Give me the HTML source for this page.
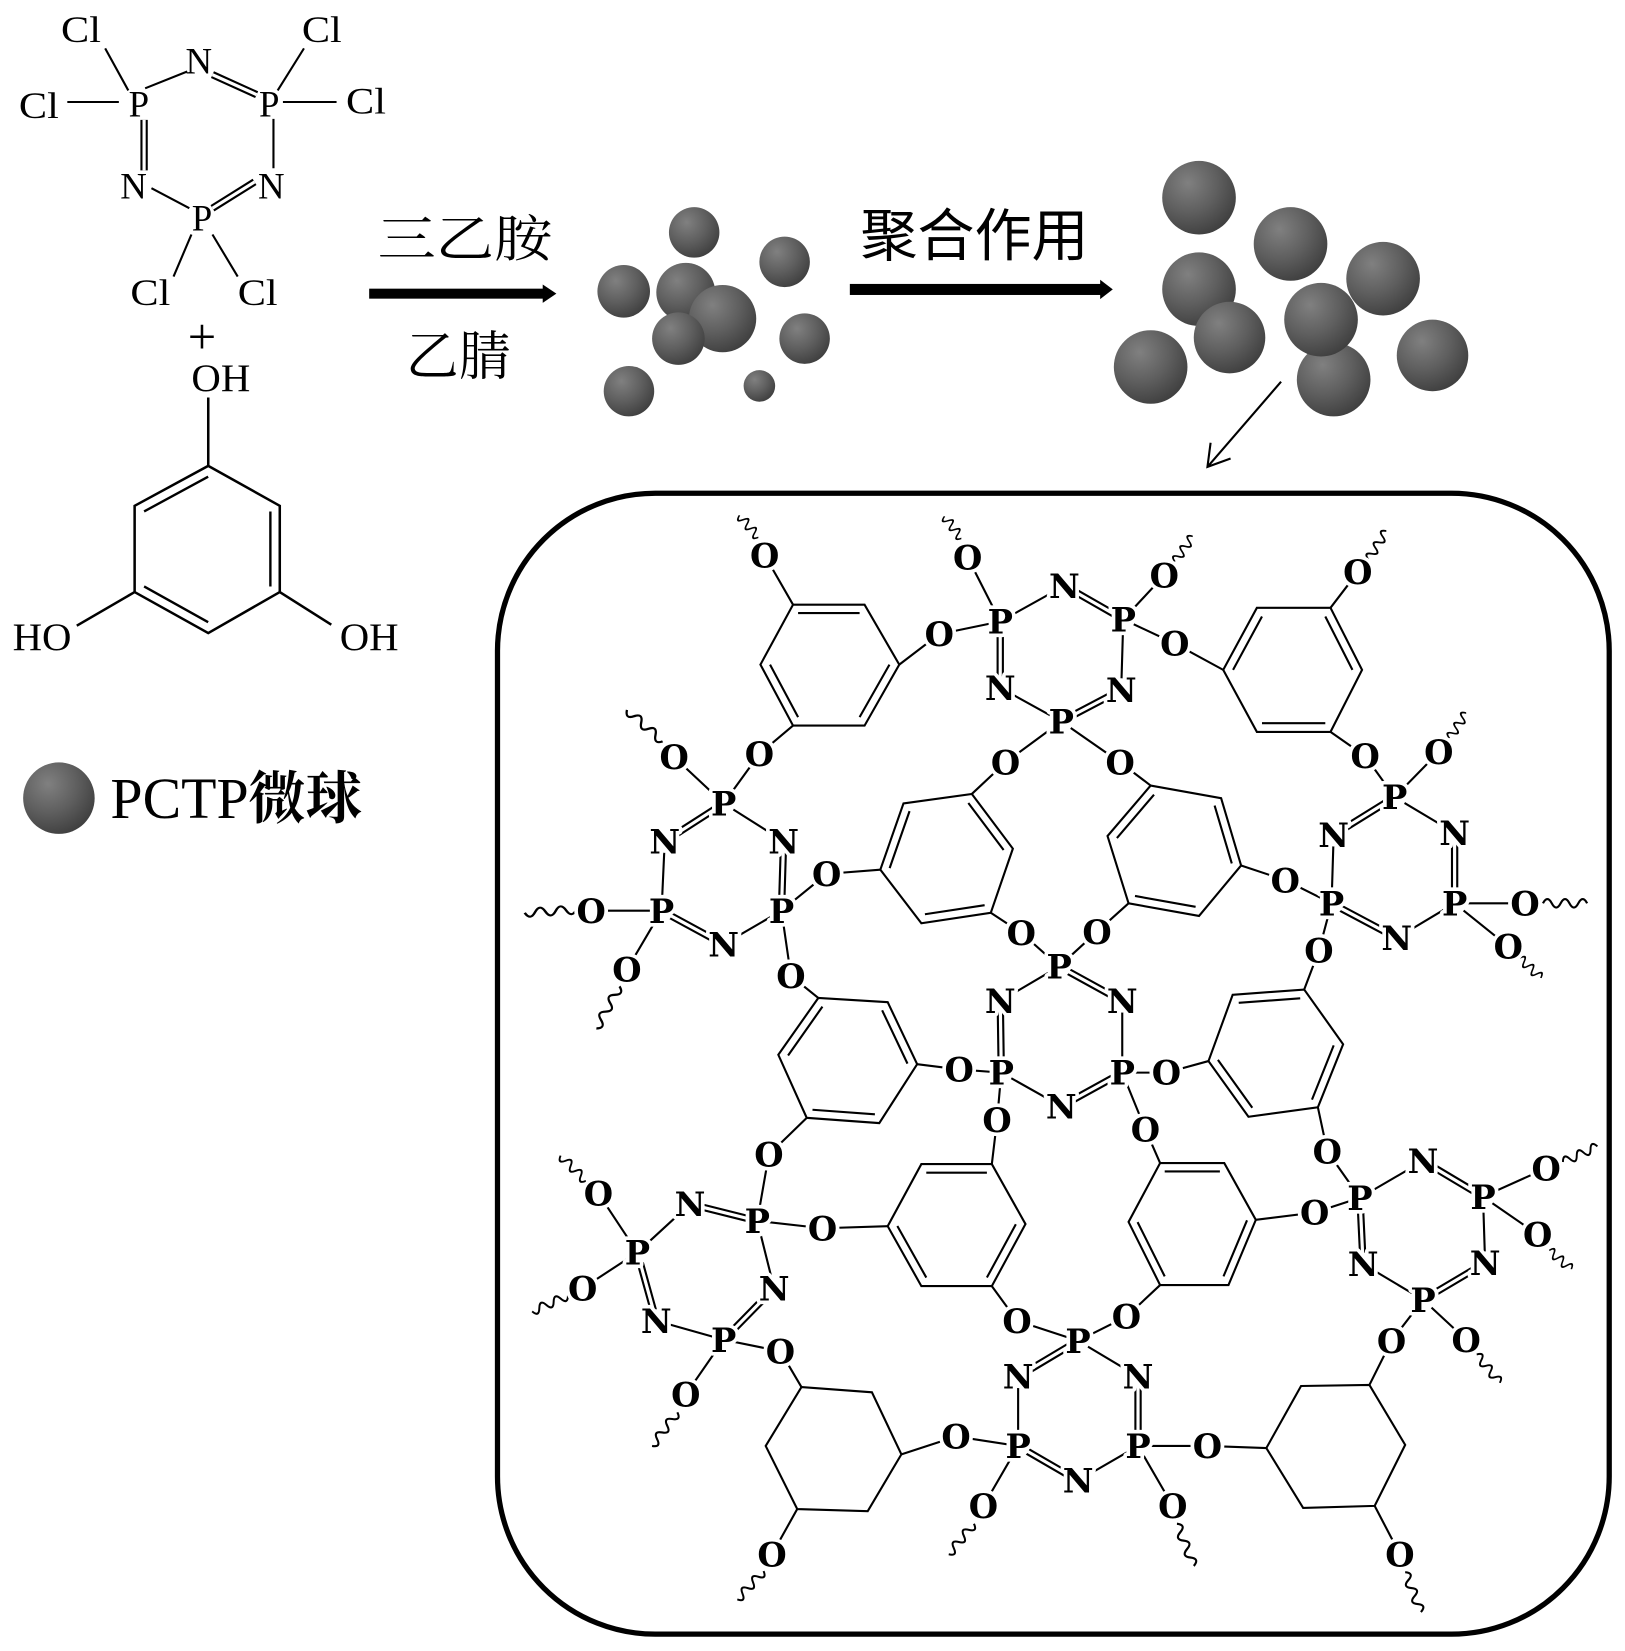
<!DOCTYPE html>
<html>
<head>
<meta charset="utf-8">
<style>
html,body{margin:0;padding:0;background:#fff;}
svg{display:block;}
.r{font-family:"Liberation Serif",serif;font-size:35px;text-anchor:middle;fill:#000;}
.a{font-family:"DejaVu Serif","Liberation Serif",serif;font-weight:bold;font-size:32px;text-anchor:middle;fill:#000;stroke:#fff;stroke-width:7px;paint-order:stroke;stroke-linejoin:round;}
</style>
</head>
<body>
<svg width="1625" height="1651" viewBox="0 0 1545 1570" preserveAspectRatio="none" xmlns="http://www.w3.org/2000/svg">
<defs>
<radialGradient id="g" cx="0.35" cy="0.3" r="0.8">
<stop offset="0" stop-color="#808080"/>
<stop offset="0.5" stop-color="#5f5f5f"/>
<stop offset="1" stop-color="#3a3a3a"/>
</radialGradient>
<path id="w" d="M0 0q4 -8 8 0t8 0t8 0t8 0t8 0" fill="none"/>
<path id="dbl" d="M1012 557L1068 589M1066 656L1009 686M951 654L951 591M1326 758L1268 794M1383 792L1383 859M1328 892L1266 859M688 764L632 800M745 800L743 866M688 898L629 866M1007 919L1067 952M951 952L952 1020M1009 1052L1067 1020M656 1145L720 1161M736 1225L688 1274M624 1256L606 1191M968 1309L1025 1275M1082 1309L1082 1375M1025 1408L968 1375M1353 1104L1410 1138M1412 1201L1353 1236M1296 1202L1293 1139M202 71L244 90M202 198L242 173M137 114L137 162"/>
</defs>

<!-- ===== Reactant: hexachlorocyclotriphosphazene ===== -->
<path fill="none" stroke="#000" stroke-width="2" d="M100 46L122 86M64 97L113 97M138 84L178 68M264 86L289 46M269 97L320 97M260 113L260 160M144 179L180 198M182 223L165 263M202 223L226 263"/>
<text class="r" x="77" y="40" textLength="38" lengthAdjust="spacingAndGlyphs">Cl</text>
<text class="r" x="306" y="40" textLength="38" lengthAdjust="spacingAndGlyphs">Cl</text>
<text class="r" x="37" y="112" textLength="38" lengthAdjust="spacingAndGlyphs">Cl</text>
<text class="r" x="348" y="108" textLength="38" lengthAdjust="spacingAndGlyphs">Cl</text>
<text class="r" x="143" y="290" textLength="38" lengthAdjust="spacingAndGlyphs">Cl</text>
<text class="r" x="245" y="290" textLength="38" lengthAdjust="spacingAndGlyphs">Cl</text>
<text class="r" x="132" y="111">P</text>
<text class="r" x="256" y="111">P</text>
<text class="r" x="192" y="219">P</text>
<text class="r" x="189" y="70">N</text>
<text class="r" x="127" y="189">N</text>
<text class="r" x="258" y="189">N</text>
<text class="r" x="192" y="336" style="font-size:48px">+</text>

<!-- ===== Phloroglucinol ===== -->
<g fill="none" stroke="#000" stroke-width="2.4">
<polygon points="198,443 266,481 266,563 198,602 128,563 128,481"/>
<path d="M198 378L198 443M128 563L73 595M266 563L315 594"/>
</g>
<path fill="none" stroke="#000" stroke-width="2.6" transform="matrix(.87 0 0 .87 25.65 67.89)" d="M128 481L198 443M266 481L266 563M128 563L198 602"/>
<text class="r" x="210" y="372" style="font-size:37px" textLength="56" lengthAdjust="spacingAndGlyphs">OH</text>
<text class="r" x="40" y="618" style="font-size:37px" textLength="56" lengthAdjust="spacingAndGlyphs">HO</text>
<text class="r" x="351" y="618" style="font-size:37px" textLength="56" lengthAdjust="spacingAndGlyphs">OH</text>

<!-- ===== Legend ===== -->
<circle cx="56" cy="759" r="34" fill="url(#g)"/>
<text x="105" y="778" font-family="'Liberation Serif', serif" font-size="55" fill="#000">PCTP<tspan font-family="'Noto Serif CJK SC','Liberation Serif',serif" font-weight="bold" font-size="54">微球</tspan></text>

<!-- ===== Arrow 1 ===== -->
<rect x="351" y="274.5" width="167" height="9.5" fill="#000"/>
<polygon points="516,270.5 529,279.2 516,288" fill="#000"/>
<text x="359" y="244" font-family="'Liberation Serif','Noto Serif CJK SC',serif" font-size="48" fill="#000" textLength="166" lengthAdjust="spacingAndGlyphs">三乙胺</text>
<text x="386" y="356" font-family="'Liberation Serif','Noto Serif CJK SC',serif" font-size="50" fill="#000" textLength="100" lengthAdjust="spacingAndGlyphs">乙腈</text>

<!-- ===== Arrow 2 ===== -->
<rect x="808" y="270" width="240" height="10.5" fill="#000"/>
<polygon points="1046,266 1058,275.2 1046,284.5" fill="#000"/>
<text x="818" y="243" font-family="'Liberation Sans','Noto Sans CJK SC',sans-serif" font-size="54" fill="#000" textLength="217" lengthAdjust="spacingAndGlyphs">聚合作用</text>

<!-- ===== Particles group 1 ===== -->
<g fill="url(#g)">
<circle cx="660" cy="221" r="24"/>
<circle cx="746" cy="249" r="24"/>
<circle cx="593" cy="277" r="25"/>
<circle cx="652" cy="278" r="28"/>
<circle cx="687" cy="303" r="32"/>
<circle cx="645" cy="322" r="25"/>
<circle cx="765" cy="322" r="24"/>
<circle cx="598" cy="372" r="24"/>
<circle cx="722" cy="367" r="15"/>
</g>
<!-- ===== Particles group 2 ===== -->
<g fill="url(#g)">
<circle cx="1140" cy="188" r="35"/>
<circle cx="1227" cy="232" r="35"/>
<circle cx="1315" cy="265" r="35"/>
<circle cx="1140" cy="275" r="35"/>
<circle cx="1169" cy="321" r="34"/>
<circle cx="1268" cy="361" r="35"/>
<circle cx="1256" cy="304" r="35"/>
<circle cx="1094" cy="349" r="35"/>
<circle cx="1362" cy="338" r="34"/>
</g>
<!-- small arrow -->
<path fill="none" stroke="#000" stroke-width="2" d="M1218 363L1148 444M1151 421L1148 444L1170 436"/>

<!-- ===== Box ===== -->
<rect x="473" y="469" width="1057" height="1085" rx="150" ry="150" fill="none" stroke="#000" stroke-width="5"/>

<!-- ===== Network: rings ===== -->
<g fill="none" stroke="#000" stroke-width="2">
<polygon points="754,575 822,575 855,632 822,690 754,690 723,632"/>
<polygon points="1195,578 1265,578 1295,637 1265,696 1195,696 1163,637"/>
<polygon points="859,764 924,755 963,807 942,868 876,878 837,827"/>
<polygon points="1094,747 1161,759 1180,823 1140,871 1073,859 1053,795"/>
<polygon points="778,949 844,953 872,1012 836,1068 767,1063 740,1003"/>
<polygon points="1172,946 1240,941 1277,993 1253,1053 1187,1062 1149,1009"/>
<polygon points="876,1107 943,1107 975,1164 943,1223 876,1223 844,1166"/>
<polygon points="1103,1106 1164,1106 1194,1160 1168,1222 1103,1222 1073,1162"/>
<polygon points="762,1319 829,1324 857,1383 825,1437 758,1435 728,1375"/>
<polygon points="1237,1318 1302,1317 1336,1374 1307,1432 1239,1434 1204,1377"/>
</g>
<g fill="none" stroke="#000" stroke-width="2.33">
<path transform="matrix(.86 0 0 .86 110.36 88.52)" d="M754 575L822 575M855 632L822 690M754 690L723 632"/>
<path transform="matrix(.86 0 0 .86 172.16 89.18)" d="M1195 578L1163 637M1265 578L1295 637M1265 696L1195 696"/>
<path transform="matrix(.86 0 0 .86 126.03 114.31)" d="M859 764L837 827M924 755L963 807M942 868L876 878"/>
<path transform="matrix(.86 0 0 .86 156.35 113.26)" d="M1094 747L1053 795M1161 759L1180 823M1140 871L1073 859"/>
<path transform="matrix(.86 0 0 .86 112.87 141.12)" d="M778 949L740 1003M844 953L872 1012M836 1068L767 1063"/>
<path transform="matrix(.86 0 0 .86 169.82 140.10)" d="M1172 946L1240 941M1277 993L1253 1053M1149 1009L1187 1062"/>
<path transform="matrix(.86 0 0 .86 127.33 163.1)" d="M876 1107L943 1107M975 1164L943 1223M876 1223L844 1166"/>
<path transform="matrix(.86 0 0 .86 158.79 162.82)" d="M1103 1106L1164 1106M1194 1160L1168 1222M1073 1162L1103 1222"/>
</g>

<!-- ===== Network: single bonds ===== -->
<path fill="none" stroke="#000" stroke-width="2" d="M727 528L754 575M855 632L893 603M893 603L951 591M754 690L722 717M722 717L688 764M920 530L951 591M951 591L1012 557M1068 589L1066 656M1009 686L951 654M1068 589L1107 547M1068 589L1117 612M1117 612L1163 637M1009 686L956 725M956 725L924 755M1009 686L1065 725M1065 725L1094 747M1265 578L1291 544M1265 696L1298 719M1298 719L1326 758M1326 758L1383 792M1383 859L1328 892M1266 859L1268 794M1326 758L1368 715M1383 859L1450 859M1383 859L1434 900M1266 859L1222 837M1222 837L1180 823M1266 859L1254 904M1254 904L1240 941M688 764L745 800M743 866L688 898M629 866L632 800M688 764L641 720M629 866L562 866M629 866L596 922M743 866L786 831M786 831L837 827M743 866L752 928M752 928L778 949M942 868L971 887M971 887L1007 919M1073 859L1043 886M1043 886L1007 919M1007 919L951 952M1067 952L1067 1020M952 1020L1009 1052M952 1020L912 1017M912 1017L872 1012M952 1020L948 1065M948 1065L943 1107M1067 1020L1109 1020M1109 1020L1149 1009M1067 1020L1089 1074M1089 1074L1103 1106M767 1063L731 1098M731 1098L720 1161M1253 1053L1262 1095M1262 1095L1293 1139M844 1166L782 1168M782 1168L720 1161M943 1223L967 1256M967 1256L1025 1275M1194 1160L1250 1153M1250 1153L1293 1139M1103 1222L1071 1252M1071 1252L1025 1275M720 1161L736 1225M688 1274L624 1256M606 1191L656 1145M606 1191L569 1135M606 1191L554 1225M688 1274L742 1285M742 1285L762 1319M688 1274L652 1326M857 1383L909 1366M909 1366L968 1375M758 1435L734 1478M1025 1275L1082 1309M1082 1375L1025 1408M968 1375L968 1309M968 1375L935 1432M1082 1375L1148 1375M1148 1375L1204 1377M1082 1375L1115 1432M1302 1317L1323 1275M1323 1275L1353 1236M1307 1432L1331 1478M1293 1139L1353 1104M1410 1138L1412 1201M1353 1236L1296 1202M1410 1138L1470 1111M1410 1138L1462 1174M1353 1236L1394 1274"/>

<!-- ===== double bonds ===== -->
<use href="#dbl" fill="none" stroke="#000" stroke-width="7"/>
<use href="#dbl" fill="none" stroke="#fff" stroke-width="3"/>

<!-- ===== wavy bonds ===== -->
<g stroke="#000" stroke-width="2" fill="none">
<use href="#w" transform="translate(721 511) rotate(-130.6) scale(.69 1)"/>
<use href="#w" transform="translate(914 512) rotate(-127.3) scale(.66 1)"/>
<use href="#w" transform="translate(1117 534) rotate(-54.7) scale(.735 1)"/>
<use href="#w" transform="translate(1301 532) rotate(-57.8) scale(.8 1)"/>
<use href="#w" transform="translate(630 705) rotate(-138.6) scale(1.13 1)"/>
<use href="#w" transform="translate(548 865) rotate(176.5) scale(1.23 1)"/>
<use href="#w" transform="translate(589 938) rotate(118.8) scale(1.14 1)"/>
<use href="#w" transform="translate(1378 702) rotate(-56.3) scale(.72 1)"/>
<use href="#w" transform="translate(1467 859) scale(1.05 1)"/>
<use href="#w" transform="translate(1445 911) rotate(43.5) scale(.69 1)"/>
<use href="#w" transform="translate(557 1123) rotate(-135) scale(.85 1)"/>
<use href="#w" transform="translate(540 1232) rotate(156.2) scale(.93 1)"/>
<use href="#w" transform="translate(644 1343) rotate(126.9) scale(1 1)"/>
<use href="#w" transform="translate(726 1494) rotate(132.8) scale(.92 1)"/>
<use href="#w" transform="translate(926 1449) rotate(129.6) scale(.94 1)"/>
<use href="#w" transform="translate(1119 1449) rotate(68.2) scale(1.08 1)"/>
<use href="#w" transform="translate(1336 1495) rotate(68.5) scale(1.02 1)"/>
<use href="#w" transform="translate(1404 1288) rotate(50.8) scale(.87 1)"/>
<use href="#w" transform="translate(1486 1105) rotate(-24.4) scale(.9 1)"/>
<use href="#w" transform="translate(1473 1189) rotate(40.6) scale(.69 1)"/>
</g>

<!-- ===== white masks behind labels ===== -->
<g fill="#fff" transform="translate(0 -10)">
<circle cx="727" cy="538" r="11"/><circle cx="893" cy="613" r="11"/><circle cx="722" cy="727" r="11"/>
<circle cx="951" cy="601" r="11"/><circle cx="1012" cy="567" r="11"/><circle cx="1068" cy="599" r="11"/>
<circle cx="1066" cy="666" r="11"/><circle cx="1009" cy="696" r="11"/><circle cx="951" cy="664" r="11"/>
<circle cx="920" cy="540" r="11"/><circle cx="1107" cy="557" r="11"/><circle cx="1117" cy="622" r="11"/>
<circle cx="956" cy="735" r="11"/><circle cx="1065" cy="735" r="11"/><circle cx="1291" cy="554" r="11"/>
<circle cx="1298" cy="729" r="11"/><circle cx="1326" cy="768" r="11"/><circle cx="1268" cy="804" r="11"/>
<circle cx="1383" cy="802" r="11"/><circle cx="1266" cy="869" r="11"/><circle cx="1328" cy="902" r="11"/>
<circle cx="1383" cy="869" r="11"/><circle cx="1368" cy="725" r="11"/><circle cx="1450" cy="869" r="11"/>
<circle cx="1434" cy="910" r="11"/><circle cx="1222" cy="847" r="11"/><circle cx="1254" cy="914" r="11"/>
<circle cx="688" cy="774" r="11"/><circle cx="632" cy="810" r="11"/><circle cx="745" cy="810" r="11"/>
<circle cx="629" cy="876" r="11"/><circle cx="743" cy="876" r="11"/><circle cx="688" cy="908" r="11"/>
<circle cx="641" cy="730" r="11"/><circle cx="562" cy="876" r="11"/><circle cx="596" cy="932" r="11"/>
<circle cx="786" cy="841" r="11"/><circle cx="752" cy="938" r="11"/><circle cx="971" cy="897" r="11"/>
<circle cx="1043" cy="896" r="11"/><circle cx="1007" cy="929" r="11"/><circle cx="951" cy="962" r="11"/>
<circle cx="1067" cy="962" r="11"/><circle cx="952" cy="1030" r="11"/><circle cx="1067" cy="1030" r="11"/>
<circle cx="1009" cy="1062" r="11"/><circle cx="912" cy="1027" r="11"/><circle cx="948" cy="1075" r="11"/>
<circle cx="1109" cy="1030" r="11"/><circle cx="1089" cy="1084" r="11"/><circle cx="731" cy="1108" r="11"/>
<circle cx="1262" cy="1105" r="11"/><circle cx="782" cy="1178" r="11"/><circle cx="967" cy="1266" r="11"/>
<circle cx="1250" cy="1163" r="11"/><circle cx="1071" cy="1262" r="11"/><circle cx="720" cy="1171" r="11"/>
<circle cx="656" cy="1155" r="11"/><circle cx="606" cy="1201" r="11"/><circle cx="736" cy="1235" r="11"/>
<circle cx="624" cy="1266" r="11"/><circle cx="688" cy="1284" r="11"/><circle cx="569" cy="1145" r="11"/>
<circle cx="554" cy="1235" r="11"/><circle cx="742" cy="1295" r="11"/><circle cx="652" cy="1336" r="11"/>
<circle cx="909" cy="1376" r="11"/><circle cx="734" cy="1488" r="11"/><circle cx="1025" cy="1285" r="11"/>
<circle cx="968" cy="1319" r="11"/><circle cx="1082" cy="1319" r="11"/><circle cx="968" cy="1385" r="11"/>
<circle cx="1082" cy="1385" r="11"/><circle cx="1025" cy="1418" r="11"/><circle cx="935" cy="1442" r="11"/>
<circle cx="1148" cy="1385" r="11"/><circle cx="1115" cy="1442" r="11"/><circle cx="1323" cy="1285" r="11"/>
<circle cx="1331" cy="1488" r="11"/><circle cx="1293" cy="1149" r="11"/><circle cx="1353" cy="1114" r="11"/>
<circle cx="1410" cy="1148" r="11"/><circle cx="1412" cy="1211" r="11"/><circle cx="1353" cy="1246" r="11"/>
<circle cx="1296" cy="1212" r="11"/><circle cx="1470" cy="1121" r="11"/><circle cx="1462" cy="1184" r="11"/>
<circle cx="1394" cy="1284" r="11"/>
</g>

<!-- ===== atom labels ===== -->
<g transform="translate(0 1.5)">
<text class="a" x="727" y="538">O</text>
<text class="a" x="893" y="613">O</text>
<text class="a" x="722" y="727">O</text>
<text class="a" x="951" y="601">P</text>
<text class="a" x="1012" y="567">N</text>
<text class="a" x="1068" y="599">P</text>
<text class="a" x="1066" y="666">N</text>
<text class="a" x="1009" y="696">P</text>
<text class="a" x="951" y="664">N</text>
<text class="a" x="920" y="540">O</text>
<text class="a" x="1107" y="557">O</text>
<text class="a" x="1117" y="622">O</text>
<text class="a" x="956" y="735">O</text>
<text class="a" x="1065" y="735">O</text>
<text class="a" x="1291" y="554">O</text>
<text class="a" x="1298" y="729">O</text>
<text class="a" x="1326" y="768">P</text>
<text class="a" x="1268" y="804">N</text>
<text class="a" x="1383" y="802">N</text>
<text class="a" x="1266" y="869">P</text>
<text class="a" x="1328" y="902">N</text>
<text class="a" x="1383" y="869">P</text>
<text class="a" x="1368" y="725">O</text>
<text class="a" x="1450" y="869">O</text>
<text class="a" x="1434" y="910">O</text>
<text class="a" x="1222" y="847">O</text>
<text class="a" x="1254" y="914">O</text>
<text class="a" x="688" y="774">P</text>
<text class="a" x="632" y="810">N</text>
<text class="a" x="745" y="810">N</text>
<text class="a" x="629" y="876">P</text>
<text class="a" x="743" y="876">P</text>
<text class="a" x="688" y="908">N</text>
<text class="a" x="641" y="730">O</text>
<text class="a" x="562" y="876">O</text>
<text class="a" x="596" y="932">O</text>
<text class="a" x="786" y="841">O</text>
<text class="a" x="752" y="938">O</text>
<text class="a" x="971" y="897">O</text>
<text class="a" x="1043" y="896">O</text>
<text class="a" x="1007" y="929">P</text>
<text class="a" x="951" y="962">N</text>
<text class="a" x="1067" y="962">N</text>
<text class="a" x="952" y="1030">P</text>
<text class="a" x="1067" y="1030">P</text>
<text class="a" x="1009" y="1062">N</text>
<text class="a" x="912" y="1027">O</text>
<text class="a" x="948" y="1075">O</text>
<text class="a" x="1109" y="1030">O</text>
<text class="a" x="1089" y="1084">O</text>
<text class="a" x="731" y="1108">O</text>
<text class="a" x="1262" y="1105">O</text>
<text class="a" x="782" y="1178">O</text>
<text class="a" x="967" y="1266">O</text>
<text class="a" x="1250" y="1163">O</text>
<text class="a" x="1071" y="1262">O</text>
<text class="a" x="720" y="1171">P</text>
<text class="a" x="656" y="1155">N</text>
<text class="a" x="606" y="1201">P</text>
<text class="a" x="736" y="1235">N</text>
<text class="a" x="624" y="1266">N</text>
<text class="a" x="688" y="1284">P</text>
<text class="a" x="569" y="1145">O</text>
<text class="a" x="554" y="1235">O</text>
<text class="a" x="742" y="1295">O</text>
<text class="a" x="652" y="1336">O</text>
<text class="a" x="909" y="1376">O</text>
<text class="a" x="734" y="1488">O</text>
<text class="a" x="1025" y="1285">P</text>
<text class="a" x="968" y="1319">N</text>
<text class="a" x="1082" y="1319">N</text>
<text class="a" x="968" y="1385">P</text>
<text class="a" x="1082" y="1385">P</text>
<text class="a" x="1025" y="1418">N</text>
<text class="a" x="935" y="1442">O</text>
<text class="a" x="1148" y="1385">O</text>
<text class="a" x="1115" y="1442">O</text>
<text class="a" x="1323" y="1285">O</text>
<text class="a" x="1331" y="1488">O</text>
<text class="a" x="1293" y="1149">P</text>
<text class="a" x="1353" y="1114">N</text>
<text class="a" x="1410" y="1148">P</text>
<text class="a" x="1412" y="1211">N</text>
<text class="a" x="1353" y="1246">P</text>
<text class="a" x="1296" y="1212">N</text>
<text class="a" x="1470" y="1121">O</text>
<text class="a" x="1462" y="1184">O</text>
<text class="a" x="1394" y="1284">O</text>
</g>
</svg>
</body>
</html>
